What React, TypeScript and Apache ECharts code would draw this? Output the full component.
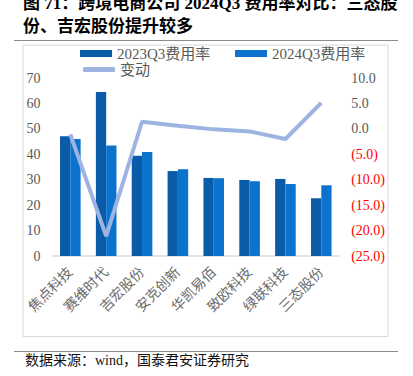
import React, { useEffect, useRef } from "react";
import * as echarts from "echarts";

const categories = ["焦点科技", "赛维时代", "吉宏股份", "安克创新", "华凯易佰", "致欧科技", "绿联科技", "三态股份"];
const rate2023 = [47.1, 64.5, 39.4, 33.4, 30.7, 29.9, 30.3, 22.7];
const rate2024 = [46.0, 43.5, 40.9, 34.1, 30.6, 29.4, 28.3, 27.8];
const change = [-1.1, -21.1, 1.4, 0.6, -0.1, -0.5, -2.0, 5.1];

const titleLine1 = "图 71：跨境电商公司 2024Q3 费用率对比：三态股";
const titleLine2 = "份、吉宏股份提升较多";
const sourceText = "数据来源：wind，国泰君安证券研究";

const SERIF = "'Liberation Serif', 'Noto Sans CJK SC', serif";
const GRAY = "#595959";

export default function App() {
  const ref = useRef<HTMLDivElement>(null);
  useEffect(() => {
    if (!ref.current) return;
    const chart = echarts.init(ref.current, undefined, { renderer: "svg" });
    const legendText = { color: GRAY, fontSize: 15, fontFamily: SERIF, lineHeight: 15 };
    chart.setOption({
      animation: false,
      backgroundColor: "#ffffff",
      graphic: [
        { type: "text", left: 23, top: -5, style: { text: titleLine1, font: `bold 17px ${SERIF}`, fill: "#000" } },
        { type: "text", left: 23, top: 18, style: { text: titleLine2, font: `bold 17px ${SERIF}`, fill: "#000" } },
        { type: "line", shape: { x1: 14, y1: 40.5, x2: 398, y2: 40.5 }, style: { stroke: "#8c8c8c", lineWidth: 1 } },
        { type: "rect", shape: { x: 23, y: 45, width: 365, height: 291.5 }, style: { fill: "none", stroke: "#D9D9D9", lineWidth: 1 } },
        { type: "line", shape: { x1: 14, y1: 351.5, x2: 398, y2: 351.5 }, style: { stroke: "#8c8c8c", lineWidth: 1 } },
        { type: "text", left: 25, top: 353, style: { text: sourceText, font: `14px ${SERIF}`, fill: "#111" } },
      ],
      legend: [
        { data: ["2023Q3费用率"], left: 80, top: 46, itemWidth: 32, itemHeight: 7, icon: "rect", textStyle: legendText, padding: 0, itemGap: 0 },
        { data: ["2024Q3费用率"], left: 235, top: 46, itemWidth: 32, itemHeight: 7, icon: "rect", textStyle: legendText, padding: 0, itemGap: 0 },
        { data: ["变动"], left: 83, top: 62, itemWidth: 32, itemHeight: 5, icon: "roundRect", textStyle: legendText, padding: 0, itemGap: 0 },
      ],
      grid: { left: 52.4, right: 73.8, top: 78, bottom: 120, containLabel: false },
      xAxis: {
        type: "category",
        data: categories,
        axisLine: { lineStyle: { color: "#D9D9D9", width: 1.5 } },
        axisTick: { show: false },
        axisLabel: { rotate: 45, color: "#6a6a6a", fontSize: 14, fontFamily: SERIF, interval: 0, margin: 14 },
      },
      yAxis: [
        {
          type: "value",
          min: 0,
          max: 70,
          interval: 10,
          splitLine: { show: false },
          axisLine: { show: false },
          axisTick: { show: false },
          axisLabel: { color: GRAY, fontSize: 14, fontFamily: SERIF, margin: 12 },
        },
        {
          type: "value",
          min: -25,
          max: 10,
          interval: 5,
          splitLine: { show: false },
          axisLine: { show: false },
          axisTick: { show: false },
          axisLabel: {
            fontSize: 14,
            fontFamily: SERIF,
            margin: 12,
            formatter: (v: number) => (v < 0 ? `(${Math.abs(v).toFixed(1)})` : v.toFixed(1)),
            color: (v: any) => (Number(v) < 0 ? "#FF0000" : GRAY),
          },
        },
      ],
      series: [
        {
          name: "2023Q3费用率",
          type: "bar",
          data: rate2023,
          barWidth: 10.3,
          barGap: "0%",
          itemStyle: { color: "#0A5CA8" },
        },
        {
          name: "2024Q3费用率",
          type: "bar",
          data: rate2024,
          barWidth: 10.3,
          barGap: "0%",
          itemStyle: { color: "#0B72CE" },
        },
        {
          name: "变动",
          type: "line",
          yAxisIndex: 1,
          data: change,
          showSymbol: false,
          symbol: "none",
          z: 5,
          lineStyle: { color: "#9DB4E3", width: 4 },
          itemStyle: { color: "#9DB4E3" },
        },
      ],
    });
    return () => chart.dispose();
  }, []);
  return <div ref={ref} style={{ position: "fixed", left: 0, top: 0, width: 413, height: 376 }} />;
}
